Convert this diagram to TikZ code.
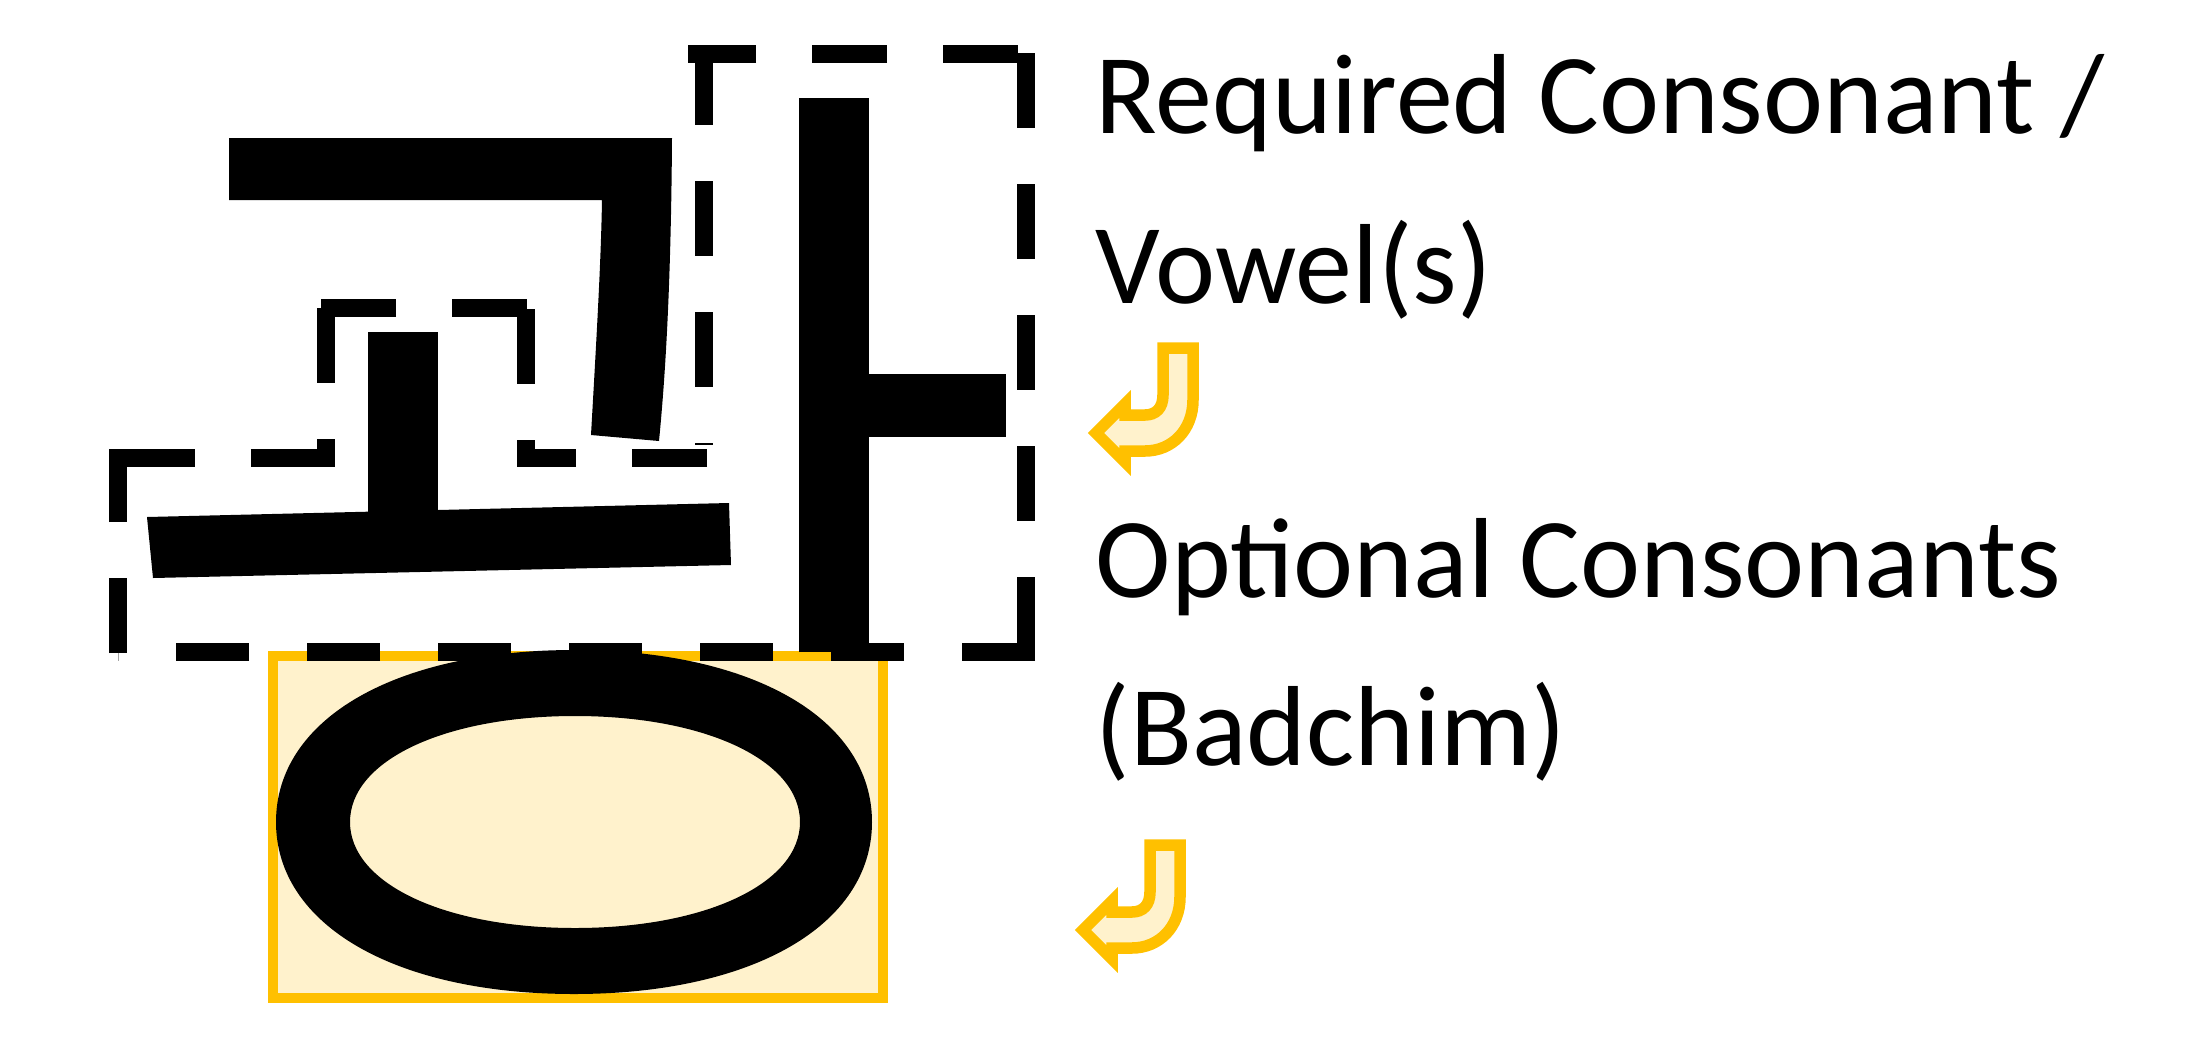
\documentclass[tikz,border=0pt]{standalone}
\usepackage{fontspec}
\setmainfont{Carlito}
\definecolor{gold}{HTML}{FFC000}
\definecolor{cream}{HTML}{FFF2CC}
\tikzset{
	outline/.style={line width=1.8mm,dash pattern=on 7.5mm off 5.6mm},
	marker/.style={draw=gold,fill=cream,line width=1mm},
	txt/.style={anchor=base west,inner sep=0pt,font=\fontsize{32.4}{38}\selectfont},
}
\begin{document}
\begin{tikzpicture}[x=0.1mm,y=-0.1mm,line join=miter]
		\useasboundingbox (0,0) rectangle (2199,1049);
		\draw[marker] (273,656) rectangle (883,998);
		\fill[even odd rule] (872,822) .. controls (872,925) and (753,994) .. (574,994) .. controls (395,994) and (276,925) .. (276,822) .. controls (276,719) and (395,650) .. (574,650) .. controls (753,650) and (872,719) .. (872,822) -- cycle
			(800,822) .. controls (800,883.5) and (705.5,928) .. (575,928) .. controls (444.5,928) and (350,883.5) .. (350,822) .. controls (350,760.5) and (444.5,716) .. (575,716) .. controls (705.5,716) and (800,760.5) .. (800,822) -- cycle;
		\draw[outline] (1018,54) -- (688,54);
		\draw[outline] (1026,53) -- (1026,652);
		\draw[outline] (704,50) -- (704,445);
		\draw[outline,dash pattern=on 7.3mm off 5.8mm] (1035,652) -- (118,652);
		\draw[outline] (118,653) -- (118,449);
		\draw[outline] (120,458) -- (326,458);
		\draw[outline] (326,308) -- (326,467);
		\draw[outline] (527,308) -- (321,308);
		\draw[outline] (526,309) -- (526,467);
		\draw[outline] (707,458) -- (535,458);
		\fill (229,138) -- (672,138) .. controls (671,290) and (665,380) .. (659,441) -- (591,435) .. controls (597,330) and (601,260) .. (602,200) -- (229,200) -- cycle;
		\fill (368,332) rectangle (438,520);
		\fill (147,517) -- (729,503) -- (731,565) -- (153,578) -- cycle;
		\fill (799,98) rectangle (869,652);
		\fill (869,374) rectangle (1006,437);
		\node[txt] (req) at (1095,133) {Required Consonant /};
		\node[txt] (vow) at (1095,303) {Vowel(s)};
		\node[txt] (opt) at (1095,597) {Optional Consonants};
		\node[txt] (bad) at (1095,765) {(Badchim)};
		\foreach \dx/\dy in {0/0,-13/497}
			\draw[marker,line width=1.15mm,shift={(\dx,\dy)}] (1163,348) -- (1193,348) -- (1193,400) .. controls (1193,430) and (1172,451) .. (1145,451) -- (1125,451) -- (1125,462) -- (1096,433) -- (1125,404) -- (1125,415) -- (1145,415) .. controls (1156,415) and (1163,408) .. (1163,395) -- cycle;
\end{tikzpicture}
\end{document}
